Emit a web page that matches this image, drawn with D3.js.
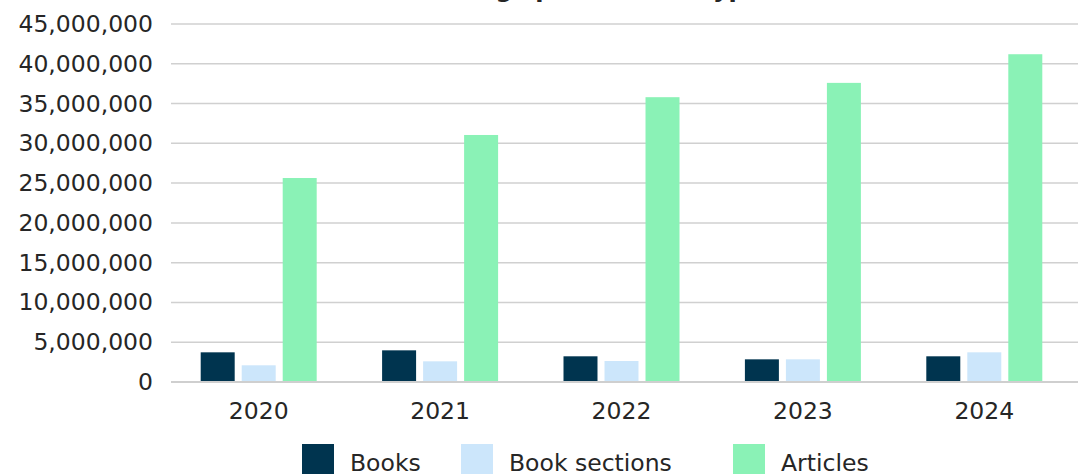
<!DOCTYPE html>
<html>
<head>
<meta charset="utf-8">
<script src="https://cdn.jsdelivr.net/npm/d3@7"></script>
<style>
  body { margin: 0; background: #fff; }
  svg { display: block; font-family: "DejaVu Sans", sans-serif; }
</style>
</head>
<body>
<svg id="chart" width="1085" height="474"></svg>
<script>
// Chart data
const years = ["2020", "2021", "2022", "2023", "2024"];
const seriesNames = ["Books", "Book sections", "Articles"];
const books = [3730000, 3980000, 3230000, 2850000, 3230000];
const bookSections = [2100000, 2600000, 2640000, 2850000, 3730000];
const articles = [25640000, 31050000, 35800000, 37600000, 41200000];
const yTicks = [0, 5000000, 10000000, 15000000, 20000000, 25000000, 30000000, 35000000, 40000000, 45000000];
const colors = ["#00344f", "#cce6fb", "#8af2b6"];

const seriesValues = [books, bookSections, articles];
const data = years.map((y, i) => ({
  year: y,
  values: seriesNames.map((s, k) => ({ key: s, value: seriesValues[k][i] }))
}));

const svg = d3.select("#chart");
const margin = { left: 171, right: 7, top: 24, bottom: 92 };
const width = 1085 - margin.left - margin.right;
const height = 474 - margin.top - margin.bottom;
const fontSize = "23.5px";
const textColor = "#262626";

const g = svg.append("g").attr("transform", `translate(${margin.left},${margin.top})`);

// Title (sits mostly above the visible area, as in the source)
svg.append("text")
  .attr("x", 762)
  .attr("y", -3)
  .attr("text-anchor", "end")
  .style("font-size", "24px")
  .style("font-weight", "bold")
  .style("fill", textColor)
  .text("Holdings per content type");

// Scales
const x0 = d3.scaleBand().domain(years).range([-3, width - 3]);
const groupW = 116;
const x1 = d3.scaleBand()
  .domain(seriesNames)
  .range([(x0.bandwidth() - groupW) / 2, (x0.bandwidth() + groupW) / 2])
  .paddingInner(0.171);
const y = d3.scaleLinear().domain([0, 45000000]).range([height, 0]);

// Gridlines
g.append("g")
  .selectAll("line")
  .data(yTicks.filter((d) => d > 0))
  .enter()
  .append("line")
  .attr("x1", 0)
  .attr("x2", width)
  .attr("y1", (d) => y(d))
  .attr("y2", (d) => y(d))
  .attr("stroke", "#d0d0d0")
  .attr("stroke-width", 1.5);

// Y axis labels
const yAxis = g.append("g")
  .call(d3.axisLeft(y).tickValues(yTicks).tickFormat(d3.format(",")).tickSize(0).tickPadding(18));
yAxis.select(".domain").remove();
yAxis.selectAll("text")
  .style("font-size", fontSize)
  .style("font-family", "'DejaVu Sans', sans-serif")
  .style("fill", textColor);

// Bars
const groups = g.selectAll(".year")
  .data(data)
  .enter()
  .append("g")
  .attr("class", "year")
  .attr("transform", (d) => `translate(${x0(d.year)},0)`);

groups.selectAll("rect")
  .data((d) => d.values)
  .enter()
  .append("rect")
  .attr("x", (d) => x1(d.key))
  .attr("y", (d) => y(d.value))
  .attr("width", x1.bandwidth())
  .attr("height", (d) => height - y(d.value))
  .attr("fill", (d, i) => colors[i]);

// Baseline
g.append("line")
  .attr("x1", 0)
  .attr("x2", width)
  .attr("y1", y(0))
  .attr("y2", y(0))
  .attr("stroke", "#cfcfcf")
  .attr("stroke-width", 2);

// X axis labels
const xAxis = g.append("g")
  .attr("transform", `translate(0,${height})`)
  .call(d3.axisBottom(x0).tickSize(0).tickPadding(20));
xAxis.select(".domain").remove();
xAxis.selectAll("text")
  .style("font-size", fontSize)
  .style("font-family", "'DejaVu Sans', sans-serif")
  .style("fill", textColor);

// Legend
const legendX = [302, 461, 733];
const legend = svg.append("g")
  .selectAll("g")
  .data(seriesNames)
  .enter()
  .append("g")
  .attr("transform", (d, i) => `translate(${legendX[i]},444)`);

legend.append("rect")
  .attr("width", 32)
  .attr("height", 32)
  .attr("fill", (d, i) => colors[i]);

legend.append("text")
  .attr("x", 48)
  .attr("y", 27)
  .style("font-size", fontSize)
  .style("fill", textColor)
  .text((d) => d);
</script>
</body>
</html>
